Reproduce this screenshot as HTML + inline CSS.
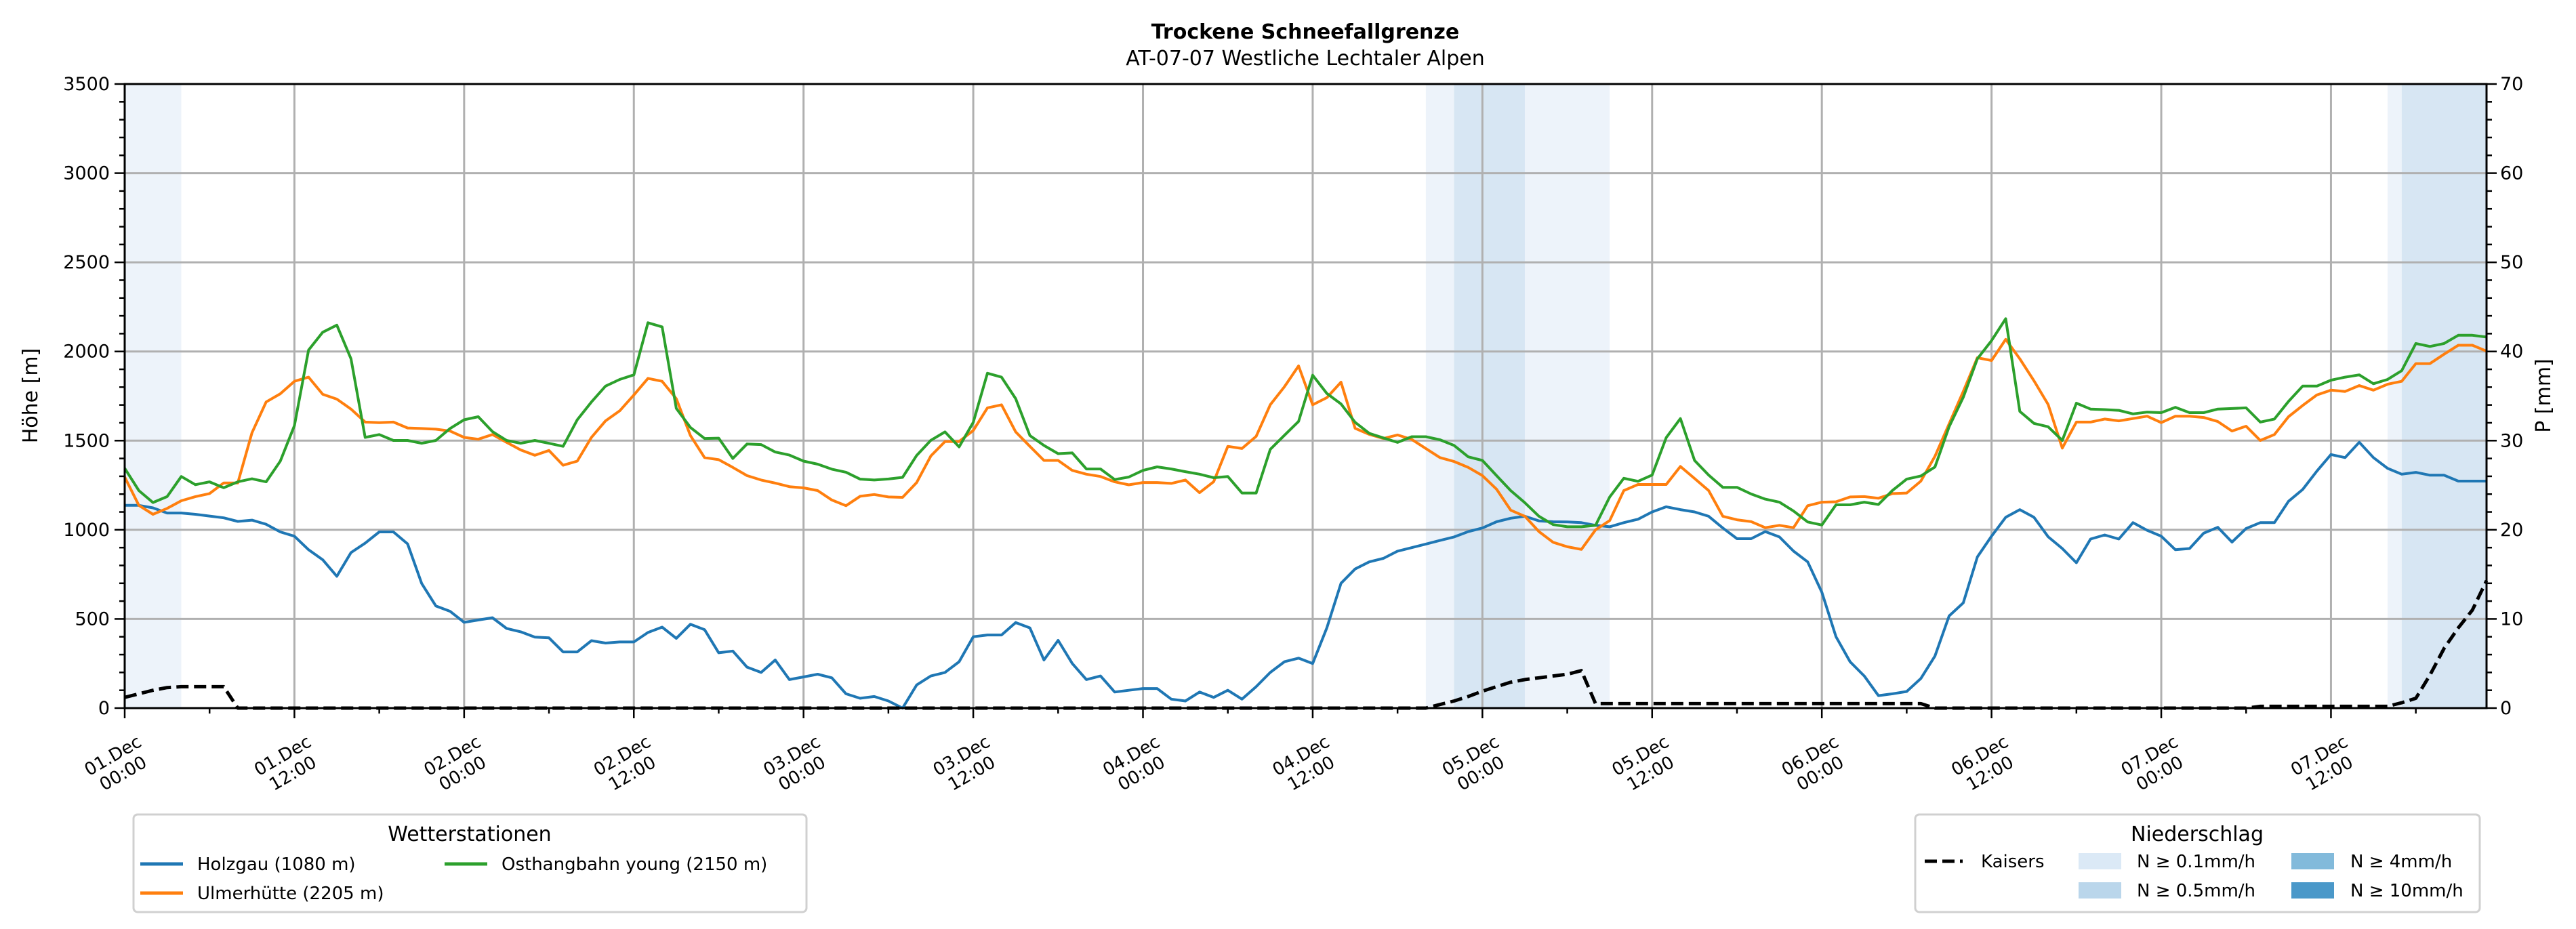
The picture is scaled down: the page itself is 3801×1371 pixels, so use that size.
<!DOCTYPE html>
<html><head><meta charset="utf-8"><style>
html,body{margin:0;padding:0;background:#fff;}
svg{display:block;font-family:"DejaVu Sans","Liberation Sans",sans-serif;}
</style></head><body>
<svg id="chart" width="3801" height="1371" viewBox="0 0 3801 1371" xmlns="http://www.w3.org/2000/svg">
<rect width="3801" height="1371" fill="#fff"/>
<text x="1926" y="57" font-size="30" font-weight="bold" text-anchor="middle">Trockene Schneefallgrenze</text>
<text x="1926" y="96" font-size="30" text-anchor="middle">AT-07-07 Westliche Lechtaler Alpen</text>
<g id="bands"></g>
<g id="grid"></g>
<g id="series"></g>
<g id="axes"></g>
<text x="0" y="0" font-size="30" text-anchor="middle" transform="translate(55,584) rotate(-90)">Höhe [m]</text>
<text x="0" y="0" font-size="30" text-anchor="middle" transform="translate(3763,584) rotate(-90)">P [mm]</text>
<g>
<rect x="197" y="1202" width="993" height="144" rx="6" fill="#fff" stroke="#d0d0d0" stroke-width="3"/>
<text x="693" y="1241" font-size="30" text-anchor="middle">Wetterstationen</text>
<g><line x1="207" y1="1275" x2="270" y2="1275" stroke="#1f77b4" stroke-width="5"/><text x="291" y="1284" font-size="26">Holzgau (1080 m)</text></g>
<g><line x1="207" y1="1318" x2="270" y2="1318" stroke="#ff7f0e" stroke-width="5"/><text x="291" y="1327" font-size="26">Ulmerhütte (2205 m)</text></g>
<g><line x1="656" y1="1275" x2="719" y2="1275" stroke="#2ca02c" stroke-width="5"/><text x="740" y="1284" font-size="26">Osthangbahn young (2150 m)</text></g>
</g>
<g>
<rect x="2826" y="1202" width="833" height="144" rx="6" fill="#fff" stroke="#d0d0d0" stroke-width="3"/>
<text x="3242" y="1241" font-size="30" text-anchor="middle">Niederschlag</text>
<g><line x1="2840" y1="1271" x2="2896" y2="1271" stroke="#000" stroke-width="5" stroke-dasharray="18,8"/><text x="2923" y="1280" font-size="26">Kaisers</text></g>
<g><rect x="3067" y="1259" width="63" height="24" fill="#dbe9f6"/><text x="3153" y="1280" font-size="26">N ≥ 0.1mm/h</text></g>
<g><rect x="3067" y="1302" width="63" height="24" fill="#bad6eb"/><text x="3153" y="1323" font-size="26">N ≥ 0.5mm/h</text></g>
<g><rect x="3381" y="1259" width="63" height="24" fill="#82badb"/><text x="3468" y="1280" font-size="26">N ≥ 4mm/h</text></g>
<g><rect x="3381" y="1302" width="63" height="24" fill="#4a98c9"/><text x="3468" y="1323" font-size="26">N ≥ 10mm/h</text></g>
</g>
</svg>
<script>
const holzgau=[1137,1137,1123,1094,1094,1087,1077,1067,1047,1054,1031,988,964,888,832,739,872,925,988,988,921,699,573,543,481,494,507,447,428,398,394,315,315,378,365,371,371,424,454,391,
470,440,310,320,230,200,270,160,175,190,170,80,55,65,40,0,130,180,200,260,400,410,410,480,450,270,380,250,160,180,90,100,110,110,50,40,90,60,100,50,120,200,260,280,250,450,700,780,820,840,880,900,920,940,960,990,
1010,1045,1065,1076,1050,1045,1044,1040,1025,1017,1040,1059,1100,1129,1113,1100,1076,
1010,950,950,990,960,880,820,650,400,260,180,70,
80,93,166,292,517,590,848,964,1070,1113,1070,961,895,815,948,971,948,1040,997,964,888,895,981,1014,931,1007,1040,1040,1160,1226,1329,1422,1405,1491,1405,1345,1312,1322,1306,1306,1273,1273,1273];
const ulmer=[1296,1137,1087,1120,1163,1186,1203,1263,1263,1544,1717,1763,1833,1856,1760,1733,1677,1604,1601,1604,1571,1568,1564,1554,1518,1508,1534,1491,1448,1418,1445,1362,1385,1518,1611,1667,1756,1849,1833,
1735,1529,1405,1393,1350,1304,1279,1262,1242,1235,1220,1167,1135,1188,1198,1184,1182,1265,1414,1495,1495,1557,1684,1701,1549,1468,1389,1389,1333,1312,1299,1269,1252,1265,1265,1260,1279,1208,1270,1468,1456,1524,1701,1802,
1919,1701,1741,1828,1569,1535,1512,1532,1507,1456,1405,1383,1350,1304,1228,1110,1076,990,930,905,890,1000,1052,1220,1254,1254,1254,1355,1288,1220,1076,1056,1046,1012,1025,1012,1135,1155,1157,1184,1186,1177,
1203,1206,1273,1412,1594,1776,1965,1949,2068,1959,1836,1703,1458,1604,1604,1621,1611,1624,1637,1601,1637,1637,1630,1607,1554,1581,1501,1534,1634,1697,1756,1783,1776,1809,1783,1816,1833,1932,1932,1985,2035,2035,2002];
const osthang=[1345,1220,1153,1186,1299,1253,1269,1236,1269,1286,1269,1385,1584,2008,2108,2148,1959,1518,1534,1501,1501,1485,1501,1568,1617,1634,1551,1501,1485,1501,1485,1468,1617,1717,1806,1843,1869,2161,2138,
1681,1574,1512,1514,1400,1481,1478,1436,1419,1385,1368,1340,1323,1284,1279,1285,1294,1417,1502,1549,1465,1603,1878,1856,1735,1529,1473,1427,1431,1341,1341,1282,1296,1333,1353,1341,1326,1312,1292,1299,1206,1206,1451,
1530,1608,1867,1765,1706,1603,1541,1515,1490,1522,1522,1505,1473,1409,1389,1304,1220,1152,1076,1029,1017,1017,1025,1184,1289,1272,1307,1517,1624,1389,1307,1238,1238,1201,1172,1155,1105,1044,1027,1140,1140,1155,1142,1221,1284,
1302,1352,1578,1743,1959,2061,2184,1664,1597,1578,1501,1710,1677,1674,1670,1650,1660,1657,1687,1657,1657,1677,1680,1684,1604,1621,1720,1806,1806,1839,1856,1869,1819,1843,1892,2045,2028,2045,2091,2091,2081];
const kaisers=[1.2,1.6,2.0,2.3,2.4,2.4,2.4,2.4,
0,0,0,0,0,0,0,0,0,0,
0,0,0,0,0,0,0,0,0,0,
0,0,0,0,0,0,0,0,0,0,
0,0,0,0,0,0,0,0,0,0,
0,0,0,0,0,0,0,0,0,0,
0,0,0,0,0,0,0,0,0,0,
0,0,0,0,0,0,0,0,0,0,
0,0,0,0,0,0,0,0,0,0,
0,0,0,0,0,
0.4,0.8,1.3,1.9,2.4,2.9,3.2,3.4,3.6,3.8,4.2,
0.5,0.5,0.5,0.5,0.5,0.5,0.5,0.5,0.5,0.5,
0.5,0.5,0.5,0.5,0.5,0.5,0.5,0.5,0.5,0.5,
0.5,0.5,0.5,0.5,
0,0,0,0,0,0,0,0,0,0,
0,0,0,0,0,0,0,0,0,0,
0,0,0,
0.2,0.2,0.2,0.2,0.2,0.2,0.2,0.2,0.2,0.2,
0.6,1.1,3.7,6.7,9.0,11.0,14.3];
const bandStart=[0,92,94,160,161];
const bandEnd=[4,105,99,161,167];
const bandLevel=[1,1,2,1,2];
const yTicks=[0,500,1000,1500,2000,2500,3000,3500];
const y2Ticks=[0,10,20,30,40,50,60,70];
const xTickHours=[0,12,24,36,48,60,72,84,96,108,120,132,144,156];
const xTickLabels=["01.Dec|00:00","01.Dec|12:00","02.Dec|00:00","02.Dec|12:00","03.Dec|00:00","03.Dec|12:00","04.Dec|00:00","04.Dec|12:00","05.Dec|00:00","05.Dec|12:00","06.Dec|00:00","06.Dec|12:00","07.Dec|00:00","07.Dec|12:00"];

const L=184,R=3669,T=124,B=1045,HMAX=167;
const NS="http://www.w3.org/2000/svg";
const xS=h=>L+h*(R-L)/HMAX;
const yS=v=>B-v*(B-T)/3500;
const y2S=v=>B-v*(B-T)/70;
function mk(tag,attrs,parent){const e=document.createElementNS(NS,tag);for(const k in attrs)e.setAttribute(k,attrs[k]);parent.appendChild(e);return e;}
const gB=document.getElementById('bands'),gG=document.getElementById('grid'),gS=document.getElementById('series'),gA=document.getElementById('axes');
const bandColors=['','#edf3fa','#d7e6f3'];
bandStart.forEach((s,i)=>{
  const r=mk('rect',{x:xS(s),y:T,width:xS(bandEnd[i])-xS(s),height:B-T,fill:bandColors[bandLevel[i]]},gB);
  
  
});
yTicks.forEach(v=>{
  const l=mk('line',{x1:L,x2:R,y1:yS(v),y2:yS(v),stroke:'#b0b0b0','stroke-width':3},gG);
  
  
});
xTickHours.forEach(h=>{
  const l=mk('line',{x1:xS(h),x2:xS(h),y1:T,y2:B,stroke:'#b0b0b0','stroke-width':3},gG);
  
  
});
function line(data,scale,color,name,dash){
  const pts=data.map((v,i)=>xS(i).toFixed(1)+','+scale(v).toFixed(1)).join(' ');
  const p=mk('polyline',{points:pts,fill:'none',stroke:color,'stroke-width':dash?5:4,'stroke-linejoin':'round'},gS);
  if(dash)p.setAttribute('stroke-dasharray','18,8');
  
  
}
line(holzgau,yS,'#1f77b4','holzgau-line');
line(ulmer,yS,'#ff7f0e','ulmerhuette-line');
line(osthang,yS,'#2ca02c','osthangbahn-line');
line(kaisers,y2S,'#000','kaisers-line',true);
const frame=mk('rect',{x:L,y:T,width:R-L,height:B-T,fill:'none',stroke:'#000','stroke-width':3},gA);


for(let v=0;v<=3500;v+=100){const len=v%500===0?15:8;mk('line',{x1:L-len,x2:L,y1:yS(v),y2:yS(v),stroke:'#000','stroke-width':2.5},gA);}
for(let v=0;v<=70;v+=2){const len=v%10===0?15:8;mk('line',{x1:R,x2:R+len,y1:y2S(v),y2:y2S(v),stroke:'#000','stroke-width':2.5},gA);}
for(let h=0;h<=HMAX;h+=6){const len=h%12===0?15:8;mk('line',{x1:xS(h),x2:xS(h),y1:B,y2:B+len,stroke:'#000','stroke-width':2.5},gA);}
yTicks.forEach(v=>{
  const t=mk('text',{x:L-22,y:yS(v)+9,'font-size':27,'text-anchor':'end'},gA);t.textContent=v;
  
  
});
y2Ticks.forEach(v=>{
  const t=mk('text',{x:R+20,y:y2S(v)+9,'font-size':27,'text-anchor':'start'},gA);t.textContent=v;
  
  
});
xTickHours.forEach((h,i)=>{
  const parts=xTickLabels[i].split('|');
  const g=mk('g',{transform:'translate('+(xS(h)-10)+',1128) rotate(-30)'},gA);
  
  
  const t1=mk('text',{x:0,y:-6,'font-size':26,'text-anchor':'middle'},g);t1.textContent=parts[0];
  const t2=mk('text',{x:0,y:24,'font-size':26,'text-anchor':'middle'},g);t2.textContent=parts[1];
});
</script>
</body></html>
